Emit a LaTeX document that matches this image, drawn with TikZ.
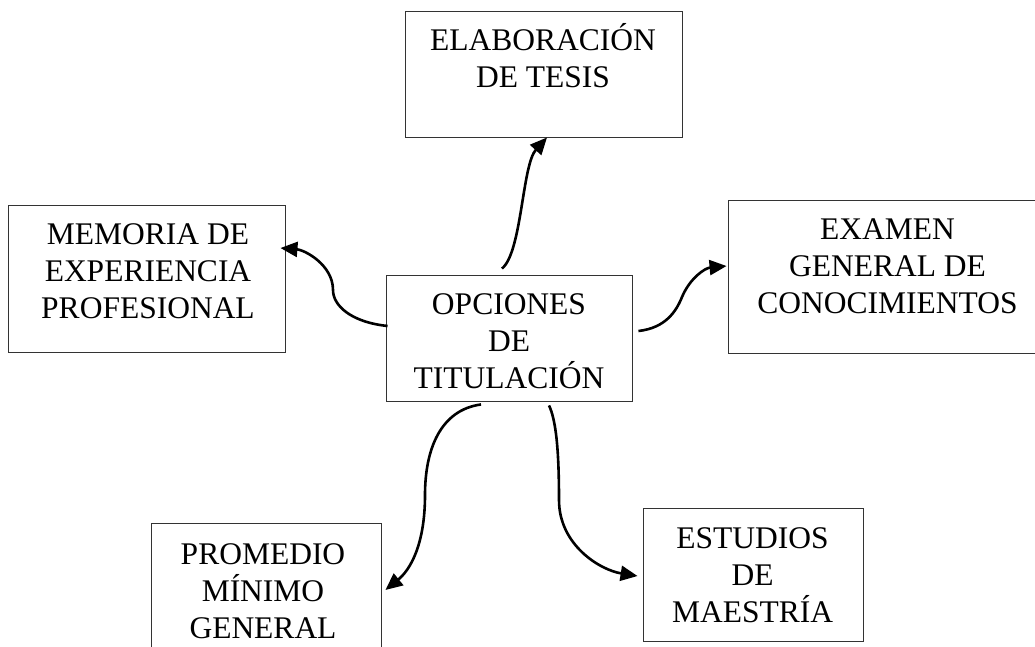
\documentclass[tikz,border=0pt]{standalone}
\usepackage{fontspec}
\setmainfont{Liberation Serif}
\usetikzlibrary{arrows.meta}
\tikzset{
  box/.style={draw=black!80, line width=0.9pt, rectangle, inner sep=0pt},
  lbl/.style={align=center, anchor=base, inner sep=0pt, font={\fontsize{31.5pt}{37pt}\selectfont}},
  conn/.style={line width=2.6pt, -{Triangle[length=17pt,width=15pt]}}
}
\begin{document}
\begin{tikzpicture}[x=1pt,y=-1pt]
\useasboundingbox (0,0) rectangle (1035,646);
\clip (0,0) rectangle (1035,646);
\fill[white] (0,0) rectangle (1035,646);
% boxes
\node[box, minimum width=277pt, minimum height=126pt] (elab) at (543.5,74) {};
\node[box, minimum width=277pt, minimum height=147pt] (mem) at (146.5,278.5) {};
\node[box, minimum width=246pt, minimum height=126pt] (opc) at (509,338) {};
\node[box, minimum width=319pt, minimum height=153pt] (exa) at (887.5,276.5) {};
\node[box, minimum width=230pt, minimum height=157pt] (prom) at (266,601.5) {};
\node[box, minimum width=220pt, minimum height=133pt] (est) at (753,574.5) {};
% texts (anchored at the baseline of the last line)
\node[lbl] (elabt) at (543,87) {ELABORACIÓN\\DE TESIS};
\node[lbl] (memt) at (148,318) {MEMORIA DE\\EXPERIENCIA\\PROFESIONAL};
\node[lbl] (opct) at (509,388) {OPCIONES\\DE\\TITULACIÓN};
\node[lbl] (exat) at (887.5,313) {EXAMEN\\GENERAL DE\\CONOCIMIENTOS};
\node[lbl] (promt) at (263,638) {PROMEDIO\\MÍNIMO\\GENERAL};
\node[lbl] (estt) at (752.5,622) {ESTUDIOS\\DE\\MAESTRÍA};
% connectors
\draw[conn] ([xshift=-7pt,yshift=6pt]opc.north) .. controls (522,252) and (522,165) .. ([xshift=3.5pt]elab.south);
\draw[conn] ([xshift=2pt,yshift=12pt]opc.west) .. controls (350,322) and (333,305) .. (333,290) .. controls (333,265) and (305,250) .. ([xshift=-5pt,yshift=30.5pt]mem.east);
\draw[conn] ([xshift=6pt,yshift=7pt]opc.east) .. controls (665,328) and (676,312) .. (682,297) .. controls (690,278) and (705,268) .. ([xshift=-1pt,yshift=10.5pt]exa.west);
\draw[conn] ([xshift=-28pt,yshift=-3pt]opc.south) .. controls (440,410) and (425,450) .. (425,495) .. controls (425,545) and (410,570) .. ([xshift=4pt,yshift=11.5pt]prom.east);
\draw[conn] ([xshift=40pt,yshift=-4pt]opc.south) .. controls (556,420) and (559,450) .. (559,500) .. controls (559,545) and (600,570) .. ([xshift=-5pt,yshift=-1.5pt]est.west);
\end{tikzpicture}
\end{document}
